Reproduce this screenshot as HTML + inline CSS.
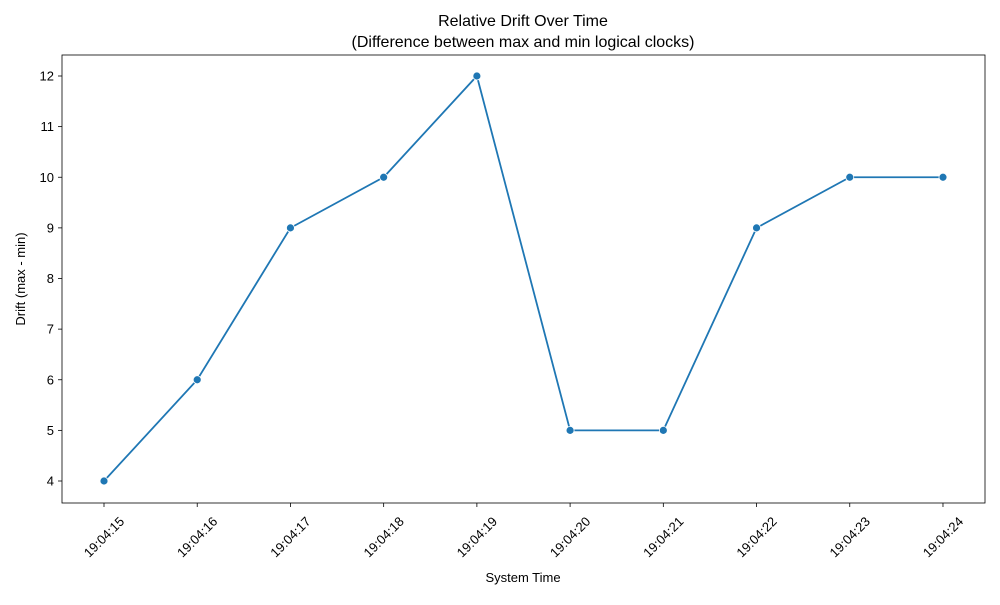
<!DOCTYPE html>
<html><head><meta charset="utf-8"><style>
body{margin:0;background:#fff}
svg text{font-family:"Liberation Sans","DejaVu Sans",sans-serif;fill:#000}
</style></head><body>
<svg id="chart" width="1000" height="600" xmlns="http://www.w3.org/2000/svg">
<text x="523" y="26" font-size="16" text-anchor="middle">Relative Drift Over Time</text>
<text x="523" y="47" font-size="16" text-anchor="middle">(Difference between max and min logical clocks)</text>
<g id="plot"></g>
<text x="523" y="582" font-size="13" text-anchor="middle">System Time</text>
<text x="0" y="0" font-size="13" text-anchor="middle" transform="translate(25,279) rotate(-90)">Drift (max - min)</text>
</svg>
<script>
const categories=["19:04:15","19:04:16","19:04:17","19:04:18","19:04:19","19:04:20","19:04:21","19:04:22","19:04:23","19:04:24"];
const drift=[4,6,9,10,12,5,5,9,10,10];
const yTicks=[4,5,6,7,8,9,10,11,12];
const L=62,R=985,T=55,B=503;
const x0=104,dx=93.22;
function xs(i){return x0+i*dx;}
function ys(v){return 481-(v-4)*50.625;}
const NS="http://www.w3.org/2000/svg";
const g=document.getElementById('plot');
function mk(t,a){const e=document.createElementNS(NS,t);for(const k in a)e.setAttribute(k,a[k]);g.appendChild(e);return e;}
yTicks.forEach(v=>{
  const t=mk('line',{x1:L-4,x2:L,y1:ys(v),y2:ys(v),stroke:'#000','stroke-width':0.8});
  
  
  const l=mk('text',{x:L-8,y:ys(v)+4.5,'font-size':13,'text-anchor':'end'});
  l.textContent=v;
  
  
});
categories.forEach((c,i)=>{
  const t=mk('line',{x1:xs(i),x2:xs(i),y1:B,y2:B+4,stroke:'#000','stroke-width':0.8});
  
  
  const l=mk('text',{x:0,y:4.5,'font-size':13,'text-anchor':'middle',transform:`translate(${xs(i)},${B+34}) rotate(-45)`});
  l.textContent=c;
  
  
});
const p=mk('polyline',{points:drift.map((v,i)=>xs(i)+','+ys(v)).join(' '),fill:'none',stroke:'#1f77b4','stroke-width':1.8});


drift.forEach((v,i)=>{
  const c=mk('circle',{cx:xs(i),cy:ys(v),r:4,fill:'#1f77b4',stroke:'#fff','stroke-width':0.8});
  
  
});
const f=mk('rect',{x:L,y:T,width:R-L,height:B-T,fill:'none',stroke:'#000','stroke-width':0.8});


</script>
</body></html>
